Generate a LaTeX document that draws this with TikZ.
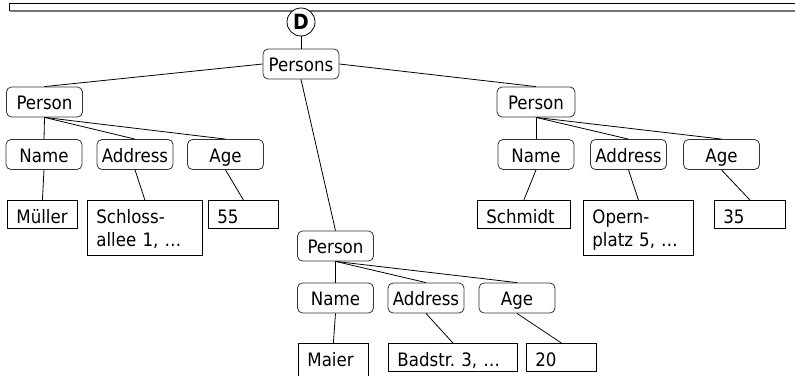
\documentclass[tikz,border=0pt]{standalone}
\usepackage{fontspec}
\setmainfont{DejaVu Sans Condensed}
\begin{document}
\begin{tikzpicture}[x=1pt,y=-1pt,
  every node/.style={font=\fontsize{18.5}{23}\selectfont},
  rbox/.style={draw=black!80, rounded corners=5pt, minimum width=76, minimum height=30, inner xsep=0, inner ysep=2, text height=20.5, text depth=5.5, line width=0.8pt, fill=white},
  leaf/.style={draw=black, anchor=north west, align=left, inner xsep=9, inner ysep=3, text height=20, text depth=2, line width=0.8pt},
  two/.style={text depth=29},
  conn/.style={draw=black, line width=0.8pt}]
\useasboundingbox (0,0) rectangle (795,375);
% top bar
\draw[black, line width=0.9pt] (9.5,11) -- (9.5,3.5) -- (800,3.5);
\draw[black!55, line width=1.6pt] (9.5,11) -- (800,11);
% nodes
\node[circle, draw, fill=white, line width=0.8pt, minimum size=28, inner sep=0, font=\fontsize{21}{22}\selectfont\bfseries] (D) at (301,22) {D};
\node[rbox] (persons) at (301,64) {Persons};
\node[rbox] (p1) at (44.5,102) {Person};
\node[rbox, minimum width=78] (p2) at (536,102) {Person};
\node[rbox] (p3) at (335.5,246) {Person};
\node[rbox] (n1) at (44,154.5) {Name};
\node[rbox] (a1) at (135,154.5) {Address};
\node[rbox] (g1) at (225.5,154.5) {Age};
\node[rbox] (n2) at (536,154.5) {Name};
\node[rbox] (a2) at (628.5,154.5) {Address};
\node[rbox] (g2) at (721.5,154.5) {Age};
\node[rbox] (n3) at (335.5,298) {Name};
\node[rbox] (a3) at (426,298) {Address};
\node[rbox] (g3) at (517,298) {Age};
% leaves
\node[leaf, text width=52] (l1) at (7,200) {Müller};
\node[leaf, two, text width=97] (l2) at (87,200) {Schloss-\\allee 1, …};
\node[leaf, text width=52] (l3) at (208,200) {55};
\node[leaf, text width=75] (r1) at (477,200) {Schmidt};
\node[leaf, two, text width=92] (r2) at (583,200) {Opern-\\platz 5, …};
\node[leaf, text width=53] (r3) at (714,200) {35};
\node[leaf, text width=52, text depth=20] (m1) at (298,343) {Maier};
\node[leaf, text width=111] (m2) at (388,343) {Badstr.\ 3, …};
\node[leaf, text width=52] (m3) at (526,343) {20};
% connectors
\draw[conn] (D) -- (persons);
\draw[conn] (persons.west) -- (p1.north);
\draw[conn] (persons.east) -- (p2.north);
\draw[conn] (persons.south) -- (p3.north);
\draw[conn] (p1.south) -- (n1.north);
\draw[conn] (p1.south) -- (a1.north);
\draw[conn] (p1.south) -- (g1.north);
\draw[conn] (p2.south) -- (n2.north);
\draw[conn] (p2.south) -- (a2.north);
\draw[conn] (p2.south) -- (g2.north);
\draw[conn] (p3.south) -- (n3.north);
\draw[conn] (p3.south) -- (a3.north);
\draw[conn] (p3.south) -- (g3.north);
\draw[conn] (n1.south) -- (l1.north);
\draw[conn] (a1.south) -- (l2.north);
\draw[conn] (g1.south) -- (l3.north);
\draw[conn] (n2.south) -- (r1.north);
\draw[conn] (a2.south) -- (r2.north);
\draw[conn] (g2.south) -- (r3.north);
\draw[conn] (n3.south) -- (m1.north);
\draw[conn] (a3.south) -- (m2.north);
\draw[conn] (g3.south) -- (m3.north);
\end{tikzpicture}
\end{document}
